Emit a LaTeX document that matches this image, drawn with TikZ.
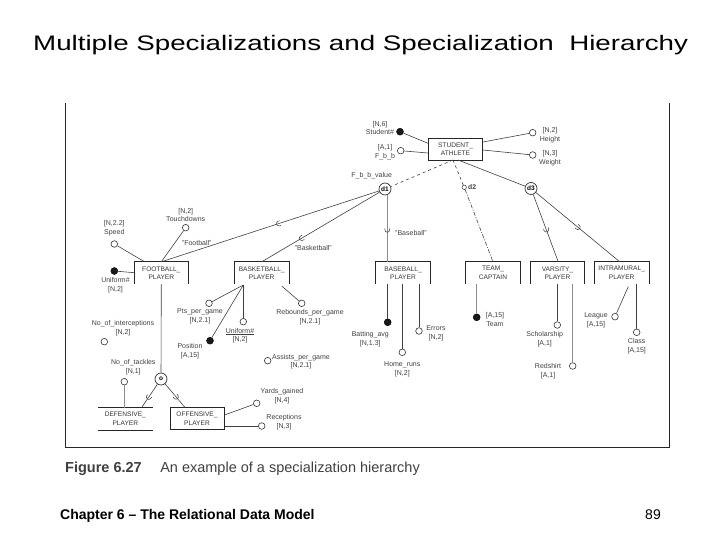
\documentclass[tikz,border=0pt]{standalone}
\usepackage{fontspec}
\setmainfont{Liberation Sans}
\usetikzlibrary{decorations.markings}
\newcommand{\openbox}[1]{\draw[boxln] (#1.south west) -- (#1.north west) -- (#1.north east) -- (#1.south east);}
\begin{document}
\begin{tikzpicture}[x=1pt,y=-1pt,
  ln/.style={draw=black!75, line width=0.6pt},
  lng/.style={draw=black!45, line width=0.7pt},
  boxln/.style={draw=black!85, line width=0.7pt},
  att/.style={circle, draw=black!80, line width=0.6pt, minimum size=6.6pt, inner sep=0pt, fill=white},
  katt/.style={circle, draw=black, fill=black!90, minimum size=7pt, inner sep=0pt},
  lbl/.style={font=\fontsize{7}{8.8}\selectfont, text=black!75, align=center, inner sep=0pt},
  ent/.style={minimum width=54pt, minimum height=22pt, inner sep=0pt, align=center, font=\fontsize{6.6}{8.6}\selectfont, text=black!80},
  dc/.style={circle, draw=black!80, line width=0.7pt, minimum size=12pt, inner sep=0pt, font=\bfseries\fontsize{6.5}{7}\selectfont, fill=white},
  subm/.style={postaction={decorate}, decoration={markings, mark=at position #1 with {\draw[black!80, line width=0.5pt] (-1.5pt,2.4pt) -- (0pt,2.4pt) arc (90:-90:2.4pt) -- (-1.5pt,-2.4pt);}}},
]
\useasboundingbox (0,0) rectangle (720,540);

% title, caption, footer
\node[anchor=base west, inner sep=0pt] (title) at (33,51) {\scalebox{1.32}[1]{\fontsize{21}{25}\selectfont Multiple Specializations and Specialization\ \ Hierarchy}};
\node[anchor=base west, inner sep=0pt, text=black!75] (cap) at (65,472) {\fontsize{14.5}{17}\selectfont\textbf{Figure 6.27}\quad\ An example of a specialization hierarchy};
\node[anchor=base west, inner sep=0pt] (foot) at (60,519) {\fontsize{14}{17}\selectfont\bfseries Chapter 6 – The Relational Data Model};
\node[anchor=base east, inner sep=0pt] (pg) at (661,519) {\fontsize{14}{17}\selectfont 89};

% frame
\draw[black!85, line width=0.8pt] (65,103) -- (65,447) -- (669,447) -- (669,103);

% entities
\node[ent, draw=black!85, line width=0.7pt] (sa) at (455.5,149) {STUDENT\_\\ATHLETE};
\node[ent] (fb) at (161.3,273) {FOOTBALL\_\\PLAYER};
\node[ent] (bb) at (261.7,273) {BASKETBALL\_\\PLAYER};
\node[ent] (bs) at (403,273) {BASEBALL\_\\PLAYER};
\node[ent] (tc) at (493,273) {TEAM\_\\CAPTAIN};
\node[ent] (vp) at (557.5,273) {VARSITY\_\\PLAYER};
\node[ent] (ip) at (621.7,273) {INTRAMURAL\_\\PLAYER};
\node[ent] (dp) at (125.3,418.7) {DEFENSIVE\_\\PLAYER};
\node[ent, draw=black!85, line width=0.7pt] (op) at (197,418.7) {OFFENSIVE\_\\PLAYER};
\openbox{fb}\openbox{bb}\openbox{bs}\openbox{tc}\openbox{vp}\openbox{ip}
\draw[boxln] (dp.north west) -- (dp.north east) (dp.south west) -- (dp.south east);

% specialization circles
\node[dc] (d1) at (385,189) {d1};
\node[circle, draw=black!80, line width=0.5pt, minimum size=4.5pt, inner sep=0pt, fill=white] (d2) at (464.2,187.3) {};
\node[lbl, font=\bfseries\fontsize{6.8}{7}\selectfont, anchor=west] (d2l) at (468,187.3) {d2};
\node[dc] (d3) at (531,188.5) {d3};
\node[dc] (oc) at (161,379) {o};
\node[lbl] (fbbv) at (371.7,176) {F\_b\_b\_value};

% anchor coordinates
\coordinate (saS1) at (453,160);
\coordinate (saS3) at (458,160);
\coordinate (bsT) at (387.3,262);
\coordinate (d1B) at (387.3,195);
\coordinate (vpT) at (558.3,262);
\coordinate (ipT) at (620,262);
\coordinate (dpT) at (141.7,407.5);
\coordinate (opT) at (185,407.5);

% hierarchy lines
\draw[ln, dashed] (saS1) -- (d1);
\draw[ln, dashed] (saS1) -- (d2);
\draw[ln, dash pattern=on 4pt off 1.5pt on 1pt off 1.5pt] (d2) -- (tc.north);
\draw[ln] (saS3) -- (d3);
\draw[ln, subm=0.46] (d1) -- (fb.north);
\draw[ln, subm=0.66] (d1) -- (bb.north);
\draw[lng, subm=0.52] (d1B) -- (bsT);
\draw[ln, subm=0.52] (d3) -- (vpT);
\draw[ln, subm=0.5] (d3) -- (ipT);
\draw[ln] (fb.south) -- (oc);
\draw[ln, subm=0.55] (oc) -- (dpT);
\draw[ln, subm=0.55] (oc) -- (opT);
\node[lbl] (lfb) at (196.7,242.7) {"Football"};
\node[lbl] (lbb) at (313.3,248.3) {"Basketball"};
\node[lbl] (lbs) at (411,233) {"Baseball"};

% STUDENT_ATHLETE attributes
\node[katt] (sid) at (400,131.7) {};
\node[lbl] (sidl) at (380,128) {{[N,6]}\\Student\#};
\node[att] (fbb) at (400.7,150.7) {};
\node[lbl] (fbbl) at (385,152) {{[A,1]}\\F\_b\_b};
\node[att] (hgt) at (532.7,132.7) {};
\node[lbl] (hgtl) at (550,135.5) {{[N,2]}\\Height};
\node[att] (wgt) at (532.7,155) {};
\node[lbl] (wgtl) at (550,158) {{[N,3]}\\Weight};
\coordinate (saW1) at (428,143.3);
\coordinate (saW2) at (428,153);
\coordinate (saE1) at (483,142);
\coordinate (saE2) at (483,150);
\draw[ln] (sid) -- (saW1);
\draw[ln] (fbb) -- (saW2);
\draw[ln] (hgt) -- (saE1);
\draw[ln] (wgt) -- (saE2);

% FOOTBALL_PLAYER attributes
\node[att] (spd) at (114.3,244) {};
\node[lbl] (spdl) at (114.3,228.5) {{[N,2.2]}\\Speed};
\node[att] (tdn) at (185.7,227.7) {};
\node[lbl] (tdnl) at (185.7,215) {{[N,2]}\\Touchdowns};
\node[katt] (unf) at (114.3,271) {};
\node[lbl] (unfl) at (115.5,285) {Uniform\#\\{}{[N,2]}};
\coordinate (fbW) at (134.3,272.7);
\coordinate (fbT1) at (145,262);
\draw[ln] (spd) -- (fbT1);
\draw[ln] (tdn) -- (fb.north);
\draw[ln] (unf) -- (fbW);
\node[att] (noi) at (104.3,341.7) {};
\node[lbl] (noil) at (123,328.5) {No\_of\_interceptions\\{}{[N,2]}};
\node[att] (not) at (124.3,381.7) {};
\node[lbl] (notl) at (133.3,367) {No\_of\_tackles\\{}{[N,1]}};
\coordinate (dpT2) at (124.3,407.5);
\draw[lng] (not) -- (dpT2);

% OFFENSIVE_PLAYER attributes
\node[att] (yds) at (256.7,403.3) {};
\node[lbl] (ydsl) at (282,396.5) {Yards\_gained\\{}{[N,4]}};
\node[att] (rec) at (261.7,426) {};
\node[lbl] (recl) at (284,422) {Receptions\\{}{[N,3]}};
\coordinate (opE1) at (224.5,415);
\coordinate (opE2) at (224.5,426);
\draw[ln] (opE1) -- (yds);
\draw[ln] (opE2) -- (rec);

% BASKETBALL_PLAYER attributes
\coordinate (bbB) at (243.3,285);
\coordinate (bbB2) at (281.7,286);
\node[att] (pts) at (209,303.3) {};
\node[lbl] (ptsl) at (200,316.7) {Pts\_per\_game\\{}{[N,2.1]}};
\node[att] (reb) at (301.7,303.3) {};
\node[lbl] (rebl) at (310,317) {Rebounds\_per\_game\\{}{[N,2.1]}};
\node[att] (unb) at (243.3,321.7) {};
\node[lbl] (unbl) at (240,335.7) {\underline{Uniform\#}\\{}{[N,2]}};
\node[katt] (pos) at (210,340.7) {};
\node[lbl] (posl) at (190,351.3) {Position\\{}{[A,15]}};
\node[att] (ast) at (267.7,360.7) {};
\node[lbl] (astl) at (301,361.7) {Assists\_per\_game\\{}{[N,2.1]}};
\draw[ln] (pts) -- (bbB);
\draw[ln] (reb) -- (bbB2);
\draw[ln] (unb) -- (bbB);
\draw[ln] (pos) -- (bbB);

% BASEBALL_PLAYER attributes
\node[katt] (bat) at (387.7,322.3) {};
\node[lbl] (batl) at (370.3,338.8) {Batting\_avg\\{}{[N,1.3]}};
\node[att] (hr) at (402.3,352.3) {};
\node[lbl] (hrl) at (402.3,369.7) {Home\_runs\\{}{[N,2]}};
\node[att] (err) at (419,331) {};
\node[lbl] (errl) at (436,333.3) {Errors\\{}{[N,2]}};
\coordinate (bsB1) at (387.7,284);
\coordinate (bsB2) at (402.3,284);
\coordinate (bsB3) at (419,284);
\draw[ln] (bsB1) -- (bat);
\draw[ln] (bsB2) -- (hr);
\draw[ln] (bsB3) -- (err);

% TEAM_CAPTAIN attribute
\node[katt] (team) at (476.7,317.3) {};
\node[lbl] (teaml) at (495,319.7) {{[A,15]}\\Team};
\coordinate (tcB) at (476.7,284);
\draw[lng] (tcB) -- (team);

% VARSITY_PLAYER attributes
\node[att] (sch) at (557.3,325) {};
\node[lbl] (schl) at (544.7,338.8) {Scholarship\\{}{[A,1]}};
\node[att] (red) at (572.7,366) {};
\node[lbl] (redl) at (548,370.8) {Redshirt\\{}{[A,1]}};
\coordinate (vpB1) at (557.3,284);
\coordinate (vpB2) at (572.7,284);
\draw[ln] (vpB1) -- (sch);
\draw[lng] (vpB2) -- (red);

% INTRAMURAL_PLAYER attributes
\node[att] (lea) at (615,316.7) {};
\node[lbl] (leal) at (596,320.5) {League\\{}{[A,15]}};
\node[att] (cls) at (636.7,332.3) {};
\node[lbl] (clsl) at (636.7,346) {Class\\{}{[A,15]}};
\coordinate (ipB1) at (628.3,286.5);
\coordinate (ipB2) at (636.7,284);
\draw[ln] (ipB1) -- (lea);
\draw[ln] (ipB2) -- (cls);
\end{tikzpicture}
\end{document}
